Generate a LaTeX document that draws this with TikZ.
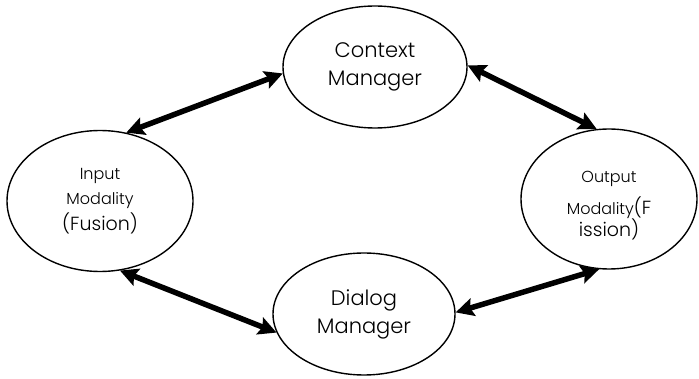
\documentclass[tikz,border=0pt]{standalone}
\usepackage{fontspec}
\setmainfont{Poppins}[UprightFont={* Light}]
\usetikzlibrary{shapes.geometric,arrows.meta}
\newcommand{\smalltxt}{\fontsize{16}{25}\selectfont}
\newcommand{\bigtxt}{\fontsize{19}{27}\selectfont}
\tikzset{
  blob/.style={ellipse,draw,line width=1.4pt,inner sep=0pt,align=center,font=\fontsize{21}{28}\selectfont},
  lbl/.style={inner sep=0pt,align=center},
  link/.style={line width=5.5pt,{Stealth[length=18pt,width=18pt,inset=3pt]}-{Stealth[length=18pt,width=18pt,inset=3pt]}}
}
\begin{document}
\begin{tikzpicture}[x=1pt,y=-1pt]
\useasboundingbox (0,0) rectangle (699,379);
\node[blob,minimum width=184pt,minimum height=122pt] (ctx) at (375,67) {Context\\Manager};
\node[blob,minimum width=182pt,minimum height=122pt] (dlg) at (364,314) {Dialog\\Manager};
\node[blob,minimum width=186pt,minimum height=141pt,font=\smalltxt] (inp) at (100,201) {Input\\Modality\\[1pt]{\bigtxt(Fusion)}};
\node[blob,minimum width=176pt,minimum height=140pt] (out) at (609,199) {};
\node[lbl,font=\smalltxt] (outtxt) at (609,206) {Output\\[7pt]Modality{\bigtxt(F}\\[-3pt]{\bigtxt ission)}};
\draw[link] (inp.69) -- (ctx.184);
\draw[link] (ctx.1) -- (out.100);
\draw[link] (inp.-74) -- (dlg.192);
\draw[link] (dlg.1) -- (out.262);
\end{tikzpicture}
\end{document}
